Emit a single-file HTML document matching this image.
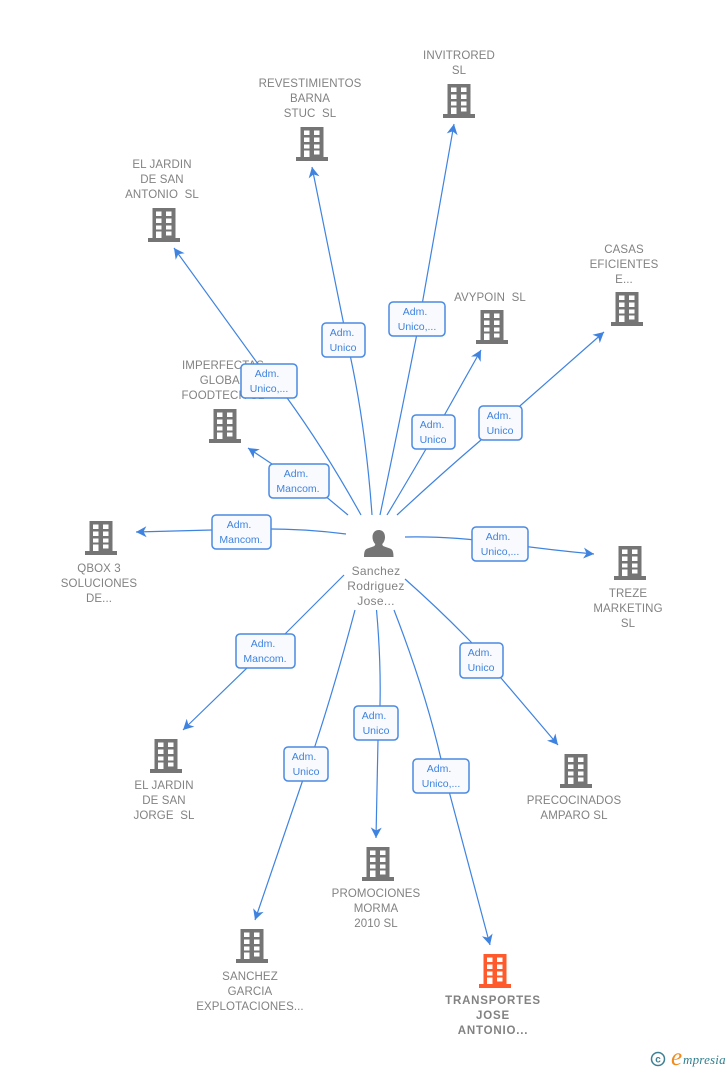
<!DOCTYPE html>
<html><head><meta charset="utf-8"><style>
html,body{margin:0;padding:0;background:#fff}
svg{display:block}
text{font-family:"Liberation Sans",sans-serif;white-space:pre}
.n text,.n{font-size:11.5px;fill:#828282;text-anchor:middle;letter-spacing:.1px}
.n text.x{font-weight:bold;letter-spacing:.8px}
.l{fill:none;stroke:#3f83e0;stroke-width:1.2}
.b{fill:#f8fafd;stroke:#4a8ae2;stroke-width:1.5}
.t{font-size:10.5px;fill:#3f83e0;text-anchor:middle}
</style></head><body>
<svg width="728" height="1070" viewBox="0 0 728 1070" xmlns="http://www.w3.org/2000/svg">
<defs>
<marker id="a" markerUnits="userSpaceOnUse" markerWidth="13" markerHeight="13" refX="11" refY="6.500" orient="auto"><path d="M11,6.500 L0.500,1 L3.500,6.500 L0.500,12 Z" fill="#3f83e0"/></marker>
<path id="h" fill-rule="evenodd" d="M-11.500,0H11.500V30H16V34H-16V30H-11.500ZM-8,3.500V8H-2.500V3.500ZM2,3.500V8H7.500V3.500ZM-8,10.500V15H-2.500V10.500ZM2,10.500V15H7.500V10.500ZM-8,17.500V21.500H-2.500V17.500ZM2,17.500V21.500H7.500V17.500ZM-8,23.500V30H-2.500V23.500ZM2,23.500V27.500H7.500V23.500Z"/>
</defs>
<g class="n">
<text x="459" y="59">INVITRORED</text><text x="459" y="74">SL</text>
<text x="310" y="87">REVESTIMIENTOS</text><text x="310" y="102">BARNA</text><text x="310" y="117">STUC  SL</text>
<text x="162" y="168">EL JARDIN</text><text x="162" y="183">DE SAN</text><text x="162" y="198">ANTONIO  SL</text>
<text x="624" y="253">CASAS</text><text x="624" y="268">EFICIENTES</text><text x="624" y="283">E...</text>
<text x="490" y="301">AVYPOIN  SL</text>
<text x="223" y="369">IMPERFECTAS</text><text x="223" y="384">GLOBAL</text><text x="223" y="399">FOODTECH SL</text>
<text x="99" y="572">QBOX 3</text><text x="99" y="587">SOLUCIONES</text><text x="99" y="602">DE...</text>
<text x="628" y="597">TREZE</text><text x="628" y="612">MARKETING</text><text x="628" y="627">SL</text>
<text x="574" y="804">PRECOCINADOS</text><text x="574" y="819">AMPARO SL</text>
<text x="164" y="789">EL JARDIN</text><text x="164" y="804">DE SAN</text><text x="164" y="819">JORGE  SL</text>
<text x="376" y="897">PROMOCIONES</text><text x="376" y="912">MORMA</text><text x="376" y="927">2010 SL</text>
<text x="250" y="980">SANCHEZ</text><text x="250" y="995">GARCIA</text><text x="250" y="1010">EXPLOTACIONES...</text>
<text x="376" y="575" style="font-size:12px;letter-spacing:.3px">Sanchez</text><text x="376" y="590" style="font-size:12px;letter-spacing:.3px">Rodriguez</text><text x="376" y="605" style="font-size:12px;letter-spacing:.3px">Jose...</text>
<text class="x" x="493" y="1004">TRANSPORTES</text><text class="x" x="493" y="1019">JOSE</text><text class="x" x="493" y="1034">ANTONIO...</text>
</g>
<g class="l">
<path marker-end="url(#a)" d="M380,515 Q398,430 416.500,336 L454,124"/>
<path marker-end="url(#a)" d="M372,515 Q366,430 350.500,357 L343.500,323 L312,167"/>
<path marker-end="url(#a)" d="M361,515 Q325,450 285,395 L258,364 L174,248"/>
<path marker-end="url(#a)" d="M387,515 Q405,485 426,449 L445,414 L481,350"/>
<path marker-end="url(#a)" d="M397,515 Q440,475 481,440 L521,405 L604,332"/>
<path marker-end="url(#a)" d="M348,515 L318,490 L272,464 L248,448"/>
<path marker-end="url(#a)" d="M346,534 Q300,528 250,529 L136,532"/>
<path marker-end="url(#a)" d="M405,537 Q450,536 500,543 Q550,550 594,554"/>
<path marker-end="url(#a)" d="M405,579 Q440,610 471,642 L501,678 L558,745"/>
<path marker-end="url(#a)" d="M344,575 L285,634 L247,668 L183,730"/>
<path marker-end="url(#a)" d="M376.500,610 Q381,660 380,705 L378,740 L376,838"/>
<path marker-end="url(#a)" d="M355,610 Q335,685 315,746 L302.500,781 L255,920"/>
<path marker-end="url(#a)" d="M394,610 Q425,690 441,759 L449.500,793 L490,945"/>
</g>
<g class="b">
<rect x="389" y="302" width="56" height="34" rx="4"/>
<rect x="322" y="323" width="43" height="34" rx="4"/>
<rect x="241" y="364" width="56" height="34" rx="4"/>
<rect x="412" y="415" width="43" height="34" rx="4"/>
<rect x="479" y="406" width="43" height="34" rx="4"/>
<rect x="269" y="464" width="60" height="34" rx="4"/>
<rect x="212" y="515" width="59" height="34" rx="4"/>
<rect x="472" y="527" width="56" height="34" rx="4"/>
<rect x="460" y="643" width="43" height="35" rx="4"/>
<rect x="236" y="634" width="59" height="34" rx="4"/>
<rect x="354" y="706" width="44" height="34" rx="4"/>
<rect x="284" y="747" width="44" height="34" rx="4"/>
<rect x="413" y="759" width="56" height="34" rx="4"/>
</g>
<g class="t">
<text x="415" y="315">Adm.</text><text x="417" y="330">Unico,...</text>
<text x="342" y="336">Adm.</text><text x="343" y="351">Unico</text>
<text x="267" y="377">Adm.</text><text x="269" y="392">Unico,...</text>
<text x="432" y="428">Adm.</text><text x="433" y="443">Unico</text>
<text x="499" y="419">Adm.</text><text x="500" y="434">Unico</text>
<text x="296" y="477">Adm.</text><text x="298" y="492">Mancom.</text>
<text x="239" y="528">Adm.</text><text x="241" y="543">Mancom.</text>
<text x="498" y="540">Adm.</text><text x="500" y="555">Unico,...</text>
<text x="480" y="656">Adm.</text><text x="481" y="671">Unico</text>
<text x="263" y="647">Adm.</text><text x="265" y="662">Mancom.</text>
<text x="374" y="719">Adm.</text><text x="376" y="734">Unico</text>
<text x="304" y="760">Adm.</text><text x="306" y="775">Unico</text>
<text x="439" y="772">Adm.</text><text x="441" y="787">Unico,...</text>
</g>
<g fill="#757575">
<use href="#h" x="459" y="84"/>
<use href="#h" x="312" y="127"/>
<use href="#h" x="164" y="208"/>
<use href="#h" x="627" y="292"/>
<use href="#h" x="492" y="310"/>
<use href="#h" x="225" y="409"/>
<use href="#h" x="101" y="521"/>
<use href="#h" x="630" y="546"/>
<use href="#h" x="576" y="754"/>
<use href="#h" x="166" y="739"/>
<use href="#h" x="378" y="847"/>
<use href="#h" x="252" y="929"/>
<use href="#h" x="495" y="954" fill="#ff5a2b"/>
<path d="M378.500,530c4.200,0 6.500,3 6.500,7c0,3 -1.200,5.500 -2.700,7c0,1.300 .5,2 2,2.500l5,1.800c3,1 4.200,2.500 4.200,8.700h-29.500c0,-6.200 1.200,-7.700 4.200,-8.700l5,-1.800c1.500,-.5 2,-1.200 2,-2.500c-1.500,-1.500 -2.700,-4 -2.700,-7c0,-4 2.300,-7 6.500,-7Z"/>
</g>
<circle cx="658" cy="1059" r="6.500" fill="none" stroke="#3f7f93" stroke-width="1.500"/>
<text x="658" y="1062.500" text-anchor="middle" style="font-size:10px;font-weight:bold;fill:#3f7f93">c</text>
<text x="671" y="1065" style="font-family:'Liberation Serif',serif;font-style:italic;font-size:25px;fill:#f28a1e">e</text>
<text x="683" y="1064" style="font-family:'Liberation Serif',serif;font-style:italic;font-size:13px;fill:#2f7f8f;letter-spacing:.2px">mpresia</text>
</svg>
</body></html>
